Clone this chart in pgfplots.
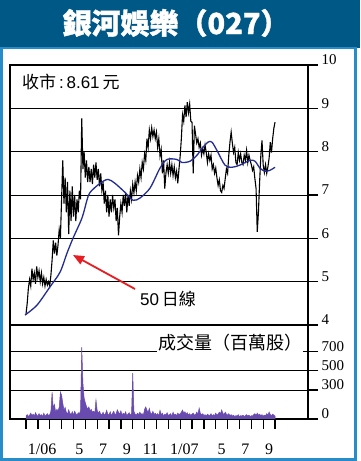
\documentclass[border=0pt]{standalone}
\usepackage{pgfplots}
\pgfplotsset{compat=1.18}
\usepackage{fontspec}
\setmainfont{Liberation Serif}
\newfontfamily\arial{Liberation Sans}
\newfontfamily\cjk{Noto Sans CJK TC}
\newfontfamily\cjkt{Noto Sans CJK TC}[FakeBold=1.2]
\usetikzlibrary{arrows.meta}
\definecolor{titleblue}{RGB}{0,88,134}
\definecolor{frameblue}{RGB}{40,140,200}
\definecolor{maBlue}{RGB}{35,45,145}
\definecolor{volpurple}{RGB}{105,75,175}
\definecolor{arrowred}{RGB}{230,30,35}

\begin{document}
\begin{tikzpicture}[x=1pt,y=1pt]
\fill[white] (0,0) rectangle (360,461);
\fill[titleblue] (0,413) rectangle (360,461);
\draw[frameblue, line width=2.5pt] (1.5,1.5) rectangle (355.5,413);
\node[white, font=\cjkt\bfseries\fontsize{29}{29}\selectfont, inner sep=0pt] at (176,438) {銀河娛樂（027）};

\begin{axis}[
  at={(10pt,136pt)}, anchor=south west,
  width=298pt, height=260pt, scale only axis,
  xmin=-1.35, xmax=23.78, ymin=4, ymax=10,
  xtick=\empty, ytick={4,...,10},
  ymajorgrids, grid style={black, line width=0.8pt},
  axis line style={black, line width=1.3pt},
  ytick pos=right, yticklabel pos=right,
  tick align=outside, major tick length=10pt,
  major tick style={black, line width=1.3pt},
  yticklabel style={font=\fontsize{15}{15}\selectfont, anchor=west, yshift=5pt},
  /pgf/number format/assume math mode=true,
]
\addplot[black, line width=1.1pt] coordinates {
(0.0,4.25)(0.1,4.5)(0.2,4.85)(0.3,5.05)(0.4,4.9)(0.5,5.3)(0.6,5.05)(0.7,5.2)(0.8,4.95)(0.9,5.35)
(1.0,5.1)(1.1,5.25)(1.2,5.0)(1.3,5.2)(1.4,4.95)(1.5,5.1)(1.6,4.9)(1.7,5.05)(1.8,4.92)(1.9,5.0)
(2.0,4.9)(2.1,5.15)(2.2,5.5)(2.3,5.95)(2.4,5.65)(2.5,5.9)(2.6,5.6)(2.7,5.85)(2.8,6.2)(2.9,6.0)
(3.0,6.9)(3.1,7.8)(3.2,6.8)(3.3,7.4)(3.4,6.6)(3.5,7.3)(3.6,6.1)(3.7,7.1)(3.8,6.4)(3.9,7.2)
(4.0,6.5)(4.1,7.0)(4.2,6.4)(4.3,6.9)(4.4,6.6)(4.5,7.1)(4.6,6.9)(4.7,8.77)(4.8,7.6)(4.9,8.0)
(5.0,7.4)(5.1,7.8)(5.2,7.3)(5.3,7.65)(5.4,7.3)(5.5,7.6)(5.6,7.25)(5.7,7.7)(5.8,7.4)(5.9,7.75)
(6.0,7.35)(6.1,7.6)(6.2,7.2)(6.3,7.5)(6.4,7.1)(6.5,7.3)(6.6,6.8)(6.7,7.1)(6.8,6.6)(6.9,7.0)
(7.0,6.5)(7.1,6.9)(7.2,6.6)(7.3,7.0)(7.4,6.7)(7.5,6.9)(7.6,6.4)(7.7,6.7)(7.8,6.07)(7.9,6.5)
(8.0,6.8)(8.1,6.6)(8.2,7.0)(8.3,6.75)(8.4,7.05)(8.5,6.6)(8.6,7.0)(8.7,6.75)(8.8,7.1)(8.9,6.9)
(9.0,7.25)(9.1,7.05)(9.2,7.3)(9.3,7.1)(9.4,7.45)(9.5,7.3)(9.6,7.6)(9.7,7.4)(9.8,7.75)(9.9,7.6)
(10.0,7.95)(10.1,7.8)(10.2,8.3)(10.3,8.1)(10.4,8.5)(10.5,8.3)(10.6,8.55)(10.7,8.35)(10.8,8.5)(10.9,8.3)
(11.0,8.45)(11.1,8.1)(11.2,8.3)(11.3,7.9)(11.4,8.05)(11.5,7.5)(11.6,7.8)(11.7,7.15)(11.8,7.5)(11.9,7.7)
(12.0,7.5)(12.1,7.75)(12.2,7.5)(12.3,7.7)(12.4,7.45)(12.5,7.65)(12.6,7.4)(12.7,7.55)(12.8,7.27)(12.9,7.6)
(13.0,7.9)(13.1,8.3)(13.2,8.85)(13.3,8.7)(13.4,9.07)(13.5,8.8)(13.6,9.14)(13.7,8.9)(13.8,9.1)(13.9,8.7)
(14.0,8.68)(14.1,7.5)(14.2,8.6)(14.3,8.4)(14.4,8.2)(14.5,8.3)(14.6,8.1)(14.7,8.2)(14.8,7.92)(14.9,8.07)
(15.0,7.95)(15.1,8.15)(15.2,7.98)(15.3,7.75)(15.4,7.95)(15.5,7.8)(15.6,7.92)(15.7,7.6)(15.8,7.7)(15.9,7.5)
(16.0,7.62)(16.1,7.4)(16.2,7.22)(16.3,7.35)(16.4,7.1)(16.5,7.06)(16.6,7.22)(16.7,7.15)(16.8,7.38)(16.9,7.6)
(17.0,7.5)(17.1,7.92)(17.2,8.22)(17.3,8.45)(17.4,8.2)(17.5,7.98)(17.6,8.1)(17.7,7.75)(17.8,7.7)(17.9,7.98)
(18.0,7.8)(18.1,7.95)(18.2,7.75)(18.3,7.7)(18.4,7.92)(18.5,7.8)(18.6,8.03)(18.7,7.75)(18.8,7.92)(18.9,7.8)
(19.0,7.7)(19.1,7.57)(19.2,7.65)(19.3,7.38)(19.4,7.15)(19.5,6.15)(19.6,6.6)(19.7,7.3)(19.8,7.9)(19.9,8.26)
(20.0,7.7)(20.1,7.52)(20.2,7.7)(20.3,7.5)(20.4,7.65)(20.5,7.85)(20.6,8.22)(20.7,7.98)(20.8,8.3)(20.9,8.54)
(21.0,8.68)
};
\addplot[maBlue, line width=1.3pt, smooth] coordinates {
(-0.08,4.23)(0.93,4.46)(2.02,4.88)(2.87,5.22)(3.46,5.66)(3.96,6.0)(4.72,6.47)(5.14,6.88)(5.40,7.06)
(6.24,7.27)(6.91,7.36)(7.50,7.27)(8.35,7.06)(9.02,6.88)(9.61,6.93)(10.46,7.16)(11.30,7.62)(11.89,7.82)
(12.73,7.82)(13.15,7.75)(13.83,7.78)(14.42,7.92)(14.92,8.1)(15.35,8.22)(15.68,8.22)(16.10,8.03)
(16.78,7.69)(17.37,7.64)(18.04,7.69)(18.89,7.8)(19.31,7.78)(19.73,7.62)(20.15,7.55)(20.57,7.57)(21.0,7.64)
};
\end{axis}

\begin{axis}[
  at={(10pt,42pt)}, anchor=south west,
  width=298pt, height=94pt, scale only axis,
  xmin=-1.35, xmax=23.78, ymin=0, ymax=970,
  xtick={0,...,21}, xticklabels={},
  extra x ticks={0.5,4.5,6.5,8.5,10.5,12.5,16.5,18.5,20.5},
  extra x tick labels={1\rlap{/06},5,7,9,11,1\rlap{/07},5,7,9},
  extra x tick style={major tick length=0pt, xticklabel style={yshift=-21pt}},
  xticklabel style={font=\fontsize{16}{16}\selectfont},
  ytick={0,300,500,700},
  ymajorgrids, grid style={black, line width=0.8pt},
  axis line style={black, line width=1.3pt},
  xtick pos=lower, ytick pos=right, yticklabel pos=right,
  tick align=outside, major tick length=10pt,
  major tick style={black, line width=1.3pt},
  yticklabel style={font=\fontsize{15}{15}\selectfont, anchor=west, yshift=5pt},
  /pgf/number format/assume math mode=true,
]
\addplot[fill=volpurple, draw=volpurple, line width=0.5pt] coordinates {
(0.0,30)(0.1,45)(0.2,25)(0.3,40)(0.4,60)(0.5,35)(0.6,50)(0.7,30)(0.8,65)(0.9,40)
(1.0,30)(1.1,55)(1.2,35)(1.3,45)(1.4,25)(1.5,60)(1.6,30)(1.7,40)(1.8,55)(1.9,35)
(2.0,45)(2.1,80)(2.2,278)(2.3,110)(2.4,150)(2.5,70)(2.6,100)(2.7,85)(2.8,120)(2.9,278)
(3.0,247)(3.1,165)(3.2,90)(3.3,120)(3.4,70)(3.5,50)(3.6,95)(3.7,60)(3.8,45)(3.9,75)
(4.0,40)(4.1,80)(4.2,55)(4.3,40)(4.4,65)(4.5,50)(4.6,90)(4.7,740)(4.8,370)(4.9,216)
(5.0,170)(5.1,130)(5.2,100)(5.3,125)(5.4,85)(5.5,100)(5.6,70)(5.7,80)(5.8,60)(5.9,196)
(6.0,90)(6.1,60)(6.2,80)(6.3,50)(6.4,45)(6.5,70)(6.6,40)(6.7,55)(6.8,90)(6.9,50)
(7.0,40)(7.1,75)(7.2,35)(7.3,60)(7.4,80)(7.5,45)(7.6,55)(7.7,95)(7.8,70)(7.9,50)
(8.0,85)(8.1,40)(8.2,60)(8.3,45)(8.4,75)(8.5,35)(8.6,50)(8.7,65)(8.8,40)(8.9,55)
(9.0,474)(9.1,80)(9.2,50)(9.3,40)(9.4,60)(9.5,45)(9.6,70)(9.7,50)(9.8,55)(9.9,40)
(10.0,100)(10.1,124)(10.2,90)(10.3,70)(10.4,110)(10.5,60)(10.6,50)(10.7,80)(10.8,45)(10.9,60)
(11.0,40)(11.1,55)(11.2,35)(11.3,90)(11.4,45)(11.5,60)(11.6,30)(11.7,50)(11.8,40)(11.9,65)
(12.0,35)(12.1,45)(12.2,55)(12.3,30)(12.4,70)(12.5,40)(12.6,50)(12.7,35)(12.8,60)(12.9,45)
(13.0,55)(13.1,70)(13.2,93)(13.3,60)(13.4,75)(13.5,50)(13.6,65)(13.7,40)(13.8,55)(13.9,35)
(14.0,50)(14.1,60)(14.2,40)(14.3,45)(14.4,70)(14.5,50)(14.6,113)(14.7,60)(14.8,40)(14.9,55)
(15.0,35)(15.1,45)(15.2,30)(15.3,50)(15.4,40)(15.5,35)(15.6,55)(15.7,30)(15.8,45)(15.9,35)
(16.0,60)(16.1,40)(16.2,50)(16.3,70)(16.4,55)(16.5,93)(16.6,60)(16.7,45)(16.8,70)(16.9,50)
(17.0,40)(17.1,55)(17.2,35)(17.3,45)(17.4,30)(17.5,40)(17.6,25)(17.7,35)(17.8,30)(17.9,45)
(18.0,25)(18.1,35)(18.2,30)(18.3,40)(18.4,25)(18.5,35)(18.6,45)(18.7,30)(18.8,40)(18.9,25)
(19.0,35)(19.1,30)(19.2,45)(19.3,55)(19.4,35)(19.5,60)(19.6,40)(19.7,50)(19.8,35)(19.9,45)
(20.0,30)(20.1,40)(20.2,35)(20.3,55)(20.4,40)(20.5,72)(20.6,45)(20.7,35)(20.8,50)(20.9,40)
(21.0,30)
} \closedcycle;
\end{axis}

\node[anchor=west, inner sep=0pt, font=\arial\fontsize{17}{17}\selectfont] at (22,379) {{\cjk 收市}\,:\,8.61\,{\cjk 元}};
\node[anchor=west, inner sep=0pt, font=\arial\fontsize{17}{17}\selectfont] at (140,162) {50\,{\cjk 日線}};
\node[anchor=west, inner sep=1pt, fill=white, font=\cjk\fontsize{18}{18}\selectfont] at (157,118) {成交量（百萬股）};
\draw[arrowred, line width=1.8pt, -{Triangle[length=11pt,width=9pt]}] (135,172) -- (73,206);

\pgfresetboundingbox
\useasboundingbox (0,0) rectangle (360,461);
\end{tikzpicture}
\end{document}
